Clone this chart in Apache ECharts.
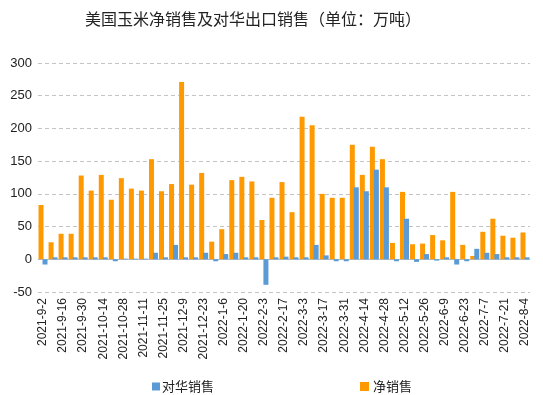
<!DOCTYPE html>
<html>
<head>
<meta charset="utf-8">
<script src="https://cdn.jsdelivr.net/npm/echarts@6/dist/echarts.min.js"></script>
<style>html,body{margin:0;padding:0;background:#fff;}#c{width:543px;height:395px;}</style>
</head>
<body>
<div id="c"></div>
<script>
const categories = ['2021-9-2','2021-9-9','2021-9-16','2021-9-23','2021-9-30','2021-10-7','2021-10-14','2021-10-21','2021-10-28','2021-11-4','2021-11-11','2021-11-18','2021-11-25','2021-12-2','2021-12-9','2021-12-16','2021-12-23','2021-12-30','2022-1-6','2022-1-13','2022-1-20','2022-1-27','2022-2-3','2022-2-10','2022-2-17','2022-2-24','2022-3-3','2022-3-10','2022-3-17','2022-3-24','2022-3-31','2022-4-7','2022-4-14','2022-4-21','2022-4-28','2022-5-5','2022-5-12','2022-5-19','2022-5-26','2022-6-2','2022-6-9','2022-6-16','2022-6-23','2022-6-30','2022-7-7','2022-7-14','2022-7-21','2022-7-28','2022-8-4'];
const netSales = [83,26,39,39,128,105,129,91,124,108,105,153,104,115,271,114,132,27,46,121,126,119,60,94,118,72,218,205,100,94,94,175,129,172,153,25,103,23,24,37,29,103,22,5,42,62,36,33,41];
const chinaSales = [-8,3,3,3,3,3,3,-3,1,1,1,10,3,22,3,3,10,-3,8,10,3,3,-39,3,4,3,3,22,6,-3,-3,110,104,137,110,-3,62,-4,8,-2,3,-8,-3,16,10,8,3,3,3];
const yTicks = {min:-50, max:300, interval:50};

const chart = echarts.init(document.getElementById('c'));
chart.setOption({
  animation:false,
  title:{text:'美国玉米净销售及对华出口销售（单位：万吨）', left:248, textAlign:'center', top:6,
    textStyle:{fontFamily:'Noto Sans CJK SC', fontSize:16, fontWeight:'normal', color:'#222'}},
  legend:[
    {data:['对华销售'], left:147, top:375, itemWidth:8, itemHeight:8, icon:'rect', itemGap:5,
      textStyle:{fontFamily:'Noto Sans CJK SC', fontSize:13, color:'#222', padding:[0,0,0,-3]}},
    {data:['净销售'], left:355, top:375, itemWidth:9, itemHeight:9, icon:'rect',
      textStyle:{fontFamily:'Noto Sans CJK SC', fontSize:13, color:'#222', padding:[0,0,0,-1]}}
  ],
  grid:{left:38, right:13, top:63, bottom:103},
  xAxis:{type:'category', data:categories, position:'bottom',
    axisLine:{show:false, onZero:false}, axisTick:{show:false},
    axisLabel:{rotate:90, interval:1, margin:6, fontFamily:'Liberation Sans', fontSize:12, color:'#222'}},
  yAxis:{type:'value', min:yTicks.min, max:yTicks.max, interval:yTicks.interval,
    axisLine:{show:false}, axisTick:{show:false},
    axisLabel:{fontFamily:'Liberation Sans', fontSize:13, color:'#222', margin:6},
    splitLine:{lineStyle:{type:[4,3], color:'#c4c4c4'}}},
  series:[
    {name:'净销售', type:'bar', data:netSales, barWidth:5, barGap:'-20%',
      itemStyle:{color:'#ff9900'},
      markLine:{silent:true, symbol:'none', label:{show:false}, z:1,
        lineStyle:{color:'#a9bdd6', type:'solid', width:1}, data:[{yAxis:0}]}},
    {name:'对华销售', type:'bar', data:chinaSales, barWidth:5, barGap:'-20%',
      itemStyle:{color:'#5b9bd5'}}
  ]
});
</script>
</body>
</html>
